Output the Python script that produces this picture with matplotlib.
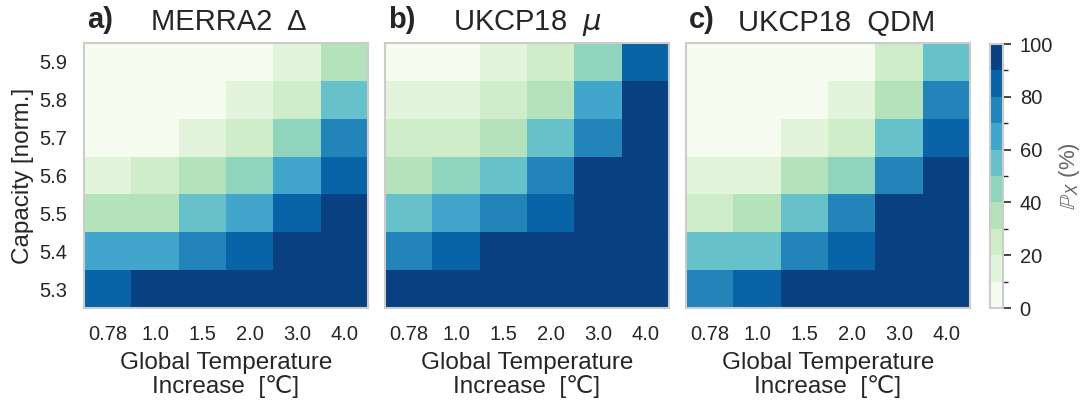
import numpy as np
import matplotlib
matplotlib.use("Agg")
import matplotlib.pyplot as plt
from matplotlib.colors import BoundaryNorm
from matplotlib.ticker import MultipleLocator

plt.rcParams['font.family'] = ['Liberation Sans', 'DejaVu Sans']
plt.rcParams['mathtext.fontset'] = 'dejavusans'
plt.rcParams['text.color'] = '0.15'
plt.rcParams['axes.labelcolor'] = '0.15'
plt.rcParams['xtick.color'] = '0.15'
plt.rcParams['ytick.color'] = '0.15'

# Axis categories
temperatures = ['0.78', '1.0', '1.5', '2.0', '3.0', '4.0']
capacities = ['5.9', '5.8', '5.7', '5.6', '5.5', '5.4', '5.3']  # top to bottom

# Exceedance probability (%) per capacity (rows) and warming level (columns)
merra2_delta = [
    [5, 5, 5, 5, 15, 35],
    [5, 5, 5, 15, 25, 55],
    [5, 5, 15, 25, 45, 75],
    [15, 25, 35, 45, 65, 85],
    [35, 35, 55, 65, 85, 95],
    [65, 65, 75, 85, 95, 95],
    [85, 95, 95, 95, 95, 95],
]
ukcp18_mu = [
    [5, 5, 15, 25, 45, 85],
    [15, 15, 25, 35, 65, 95],
    [25, 25, 35, 55, 75, 95],
    [35, 45, 55, 75, 95, 95],
    [55, 65, 75, 85, 95, 95],
    [75, 85, 95, 95, 95, 95],
    [95, 95, 95, 95, 95, 95],
]
ukcp18_qdm = [
    [5, 5, 5, 5, 25, 55],
    [5, 5, 5, 15, 35, 75],
    [5, 5, 15, 25, 55, 85],
    [15, 15, 35, 45, 75, 95],
    [25, 35, 55, 75, 95, 95],
    [55, 55, 75, 85, 95, 95],
    [75, 85, 95, 95, 95, 95],
]

panels = [
    ('a)', 'MERRA2  Δ', merra2_delta),
    ('b)', r'UKCP18  $\mu$', ukcp18_mu),
    ('c)', 'UKCP18  QDM', ukcp18_qdm),
]

cmap = plt.get_cmap('GnBu', 10)
levels = np.arange(0, 101, 10)
norm = BoundaryNorm(levels, cmap.N)

W, H = 1085, 403
fig = plt.figure(figsize=(W / 100, H / 100), dpi=100)

lefts = [84, 385, 686]
title_x = [0.51, 0.5, 0.53]
ax_w, ax_top, ax_bot = 284, 43, 308
edge = '#cccccc'

mesh = None
for i, (tag, title, values) in enumerate(panels):
    ax = fig.add_axes([lefts[i] / W, (H - ax_bot) / H, ax_w / W, (ax_bot - ax_top) / H])
    data = np.array(values, dtype=float)
    mesh = ax.pcolormesh(np.arange(len(temperatures) + 1), np.arange(len(capacities) + 1),
                         data, cmap=cmap, norm=norm)
    ax.set_xlim(0, len(temperatures))
    ax.set_ylim(len(capacities), 0)
    ax.set_xticks(np.arange(len(temperatures)) + 0.5)
    ax.set_xticklabels(temperatures, fontsize=14.5)
    ax.tick_params(axis='both', length=0, pad=12)
    if i == 0:
        ax.set_yticks(np.arange(len(capacities)) + 0.5)
        ax.set_yticklabels(capacities, fontsize=14.5)
        ax.set_ylabel('Capacity [norm.]', fontsize=17.5, labelpad=4)
    else:
        ax.set_yticks([])
    ax.set_xlabel('Global Temperature\nIncrease  [℃]', fontsize=17.5, labelpad=6,
                  linespacing=1.05)
    for sp in ax.spines.values():
        sp.set_color(edge)
        sp.set_linewidth(1.5)
    ax.set_title(title, fontsize=21, pad=9, x=title_x[i])
    ax.text(0.01, 1.034, tag, transform=ax.transAxes, fontsize=21, fontweight='bold',
            ha='left', va='bottom', color='0.15')

cax = fig.add_axes([990 / W, (H - 308) / H, 13 / W, 264 / H])
cb = fig.colorbar(mesh, cax=cax, ticks=np.arange(0, 101, 20))
cb.outline.set_edgecolor(edge)
cb.outline.set_linewidth(1.5)
cax.yaxis.set_minor_locator(MultipleLocator(10))
cax.tick_params(which='major', length=6, width=1.2, labelsize=14.5, pad=6)
cax.tick_params(which='minor', length=3.5, width=1.0)
cb.set_label(r'$\mathbb{P}_X$ (%)', fontsize=16, color='0.4', labelpad=3)

fig.savefig('out.png', dpi=100)
